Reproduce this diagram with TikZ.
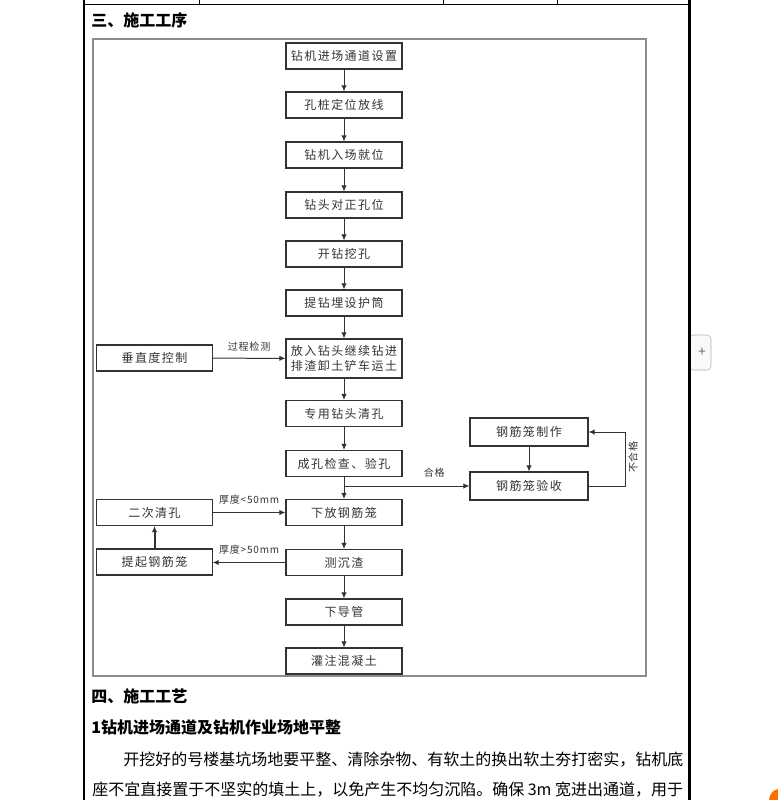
\documentclass[tikz,border=0pt]{standalone}
\usepackage{fontspec}
\usepackage{tikz}
\usetikzlibrary{arrows.meta}
\setmainfont{Noto Sans CJK SC}
\newfontfamily\chartfont[LetterSpace=12]{Noto Sans CJK SC}
\newfontfamily\notefont[LetterSpace=8]{Noto Sans CJK SC}
\definecolor{framegray}{HTML}{8C8C8C}
\definecolor{linegray}{HTML}{333333}

\begin{document}
\begin{tikzpicture}[x=0.75pt,y=-0.75pt,
  procbox/.style={draw=linegray,line width=0.8pt,minimum width=87pt,minimum height=19.5pt,inner sep=0pt,text=linegray,align=center,font=\chartfont\fontsize{9pt}{11.25pt}\selectfont},
  sidebox/.style={procbox,minimum width=86.5pt},
  flow/.style={draw=linegray,line width=0.75pt,-{Latex[length=4.5pt,width=4pt]}},
  note/.style={inner sep=0pt,text=linegray,font=\notefont\fontsize{7.5pt}{8pt}\selectfont},
  heading/.style={anchor=west,inner sep=0pt,font=\bfseries\fontsize{12pt}{14pt}\selectfont},
  body/.style={anchor=west,inner sep=0pt,font=\fontsize{12pt}{14pt}\selectfont}]
\useasboundingbox (0,0) rectangle (778,800);
\draw[draw=gray!60,fill=gray!5,rounded corners=3pt] (689,335) rectangle (711,370);
\node[text=gray!80!black,font=\fontsize{10pt}{10pt}\selectfont] (plus) at (702,352) {+};
\fill[orange!85!red] (769,800) .. controls (769.5,794) and (773,790) .. (778,789) -- (778,800) -- cycle;
\draw[line width=0.75pt] (83,4.5) -- (689,4.5);
\foreach \x in {199,443,557} \draw[line width=0.75pt] (\x,0) -- (\x,4.5);
\draw[line width=1.5pt] (84,0) -- (84,800);
\draw[line width=2.25pt] (689,0) -- (689,800);
\node[heading] (sec3) at (91,20) {三、施工工序};
\draw[framegray,line width=1pt] (93,39) rectangle (646,676);
\foreach \n/\y/\t in {access/56/钻机进场通道设置,layout/105/孔桩定位放线,rigin/155/钻机入场就位,centre/205/钻头对正孔位,drill/254/开钻挖孔,casing/303/提钻埋设护筒,clean/413.5/专用钻头清孔,check/463.5/成孔检查、验孔,cage/512.5/下放钢筋笼,sediment/562.5/测沉渣,tremie/612/下导管,pour/661/灌注混凝土}
  \node[procbox] (\n) at (344,\y) {\t};
\node[procbox,minimum height=29.25pt] (bore) at (344,358.5) {放入钻头继续钻进\\排渣卸土铲车运土};
\node[sidebox] (vert) at (154.5,358) {垂直度控制};
\node[sidebox] (reclean) at (154.5,512.5) {二次清孔};
\node[sidebox] (lift) at (154.5,562) {提起钢筋笼};
\node[procbox,minimum width=88.5pt,minimum height=21pt] (cagemake) at (529,432) {钢筋笼制作};
\node[procbox,minimum width=88.5pt,minimum height=21pt] (cagecheck) at (529,486) {钢筋笼验收};
\foreach \a/\b in {access/layout,layout/rigin,rigin/centre,centre/drill,drill/casing,casing/bore,bore/clean,clean/check,check/cage,cage/sediment,sediment/tremie,tremie/pour,cagemake/cagecheck}
  \draw[flow] (\a) -- (\b);
\draw[flow] (vert) -- node[note,above=5pt] {过程检测} (bore);
\draw[flow] (check.south |- cagecheck.west) -- node[note,above=6pt,pos=0.72] {合格} (cagecheck.west);
\draw[flow] (cagecheck.east) -- ++(37,0) |- (cagemake.east);
\node[note,rotate=90] (fail) at (633,457) {不合格};
\draw[flow] (reclean.east |- cage.west) -- node[note,above=6pt] {厚度<50mm} (cage.west);
\draw[flow] (sediment.west) -- node[note,above=6pt] {厚度>50mm} (lift.east |- sediment.west);
\draw[flow,line width=1.5pt] (lift) -- (reclean);
\node[heading] (sec4) at (91,696) {四、施工工艺};
\node[heading] (sub1) at (91,727) {1钻机进场通道及钻机作业场地平整};
\node[body] (para1) at (123,760) {开挖好的号楼基坑场地要平整、清除杂物、有软土的换出软土夯打密实，钻机底};
\node[body] (para2) at (92,790) {座不宜直接置于不坚实的填土上，以免产生不均匀沉陷。确保 3m 宽进出通道，用于};
\end{tikzpicture}
\end{document}
